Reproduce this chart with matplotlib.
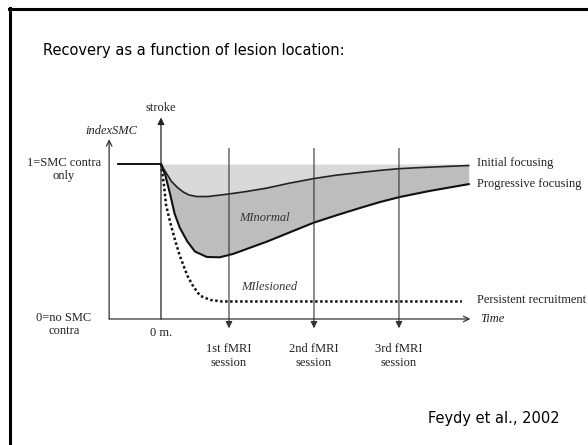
import numpy as np
import matplotlib.pyplot as plt
from matplotlib.lines import Line2D

# time axis: stroke at t=0, fMRI sessions afterwards (arbitrary units)
# index axis: 1 = SMC contra only, 0 = no SMC contra
initial_t = [0, 0.03, 0.07, 0.12, 0.19, 0.26, 0.33, 0.42, 0.55, 0.78, 1.0,
             1.25, 1.5, 1.79, 2.05, 2.34, 2.6, 2.81, 3.1, 3.35, 3.62]
initial_v = [1.0, 0.97, 0.935, 0.89, 0.85, 0.82, 0.80, 0.79, 0.79, 0.805, 0.822,
             0.845, 0.875, 0.905, 0.927, 0.945, 0.96, 0.97, 0.978, 0.984, 0.99]

progressive_t = [0, 0.05, 0.11, 0.16, 0.22, 0.31, 0.40, 0.54, 0.69, 0.85, 1.05,
                 1.25, 1.52, 1.79, 2.07, 2.34, 2.58, 2.81, 3.16, 3.62]
progressive_v = [1.0, 0.93, 0.80, 0.68, 0.59, 0.50, 0.435, 0.40, 0.398, 0.42, 0.46,
                 0.50, 0.56, 0.62, 0.67, 0.716, 0.755, 0.787, 0.826, 0.87]

lesioned_t = [0, 0.035, 0.06, 0.11, 0.165, 0.22, 0.31, 0.38, 0.46, 0.58, 0.72, 3.54]
lesioned_v = [1.0, 0.865, 0.735, 0.62, 0.51, 0.41, 0.28, 0.21, 0.15, 0.123, 0.113, 0.113]

pre_stroke_t = [-0.5, 0]
pre_stroke_v = [1.0, 1.0]

session_t = [0.8, 1.8, 2.8]
session_labels = ['1st fMRI\nsession', '2nd fMRI\nsession', '3rd fMRI\nsession']

curve_labels = ['Initial focusing', 'Progressive focusing', 'Persistent recruitment']
curve_label_v = [1.006, 0.87, 0.12]

fig = plt.figure(figsize=(5.88, 4.45), dpi=100)
ax = fig.add_axes([0, 0, 1, 1])
ax.set_xlim(-1.894, 5.024)
ax.set_ylim(-0.813, 2.058)
ax.axis('off')

serif = 'Liberation Serif'
fs = 9
tc = '#222222'

# shaded bands
ax.fill_between(initial_t, 1.0, initial_v, color='#d9d9d9', lw=0)
ax.fill_between(progressive_t, np.interp(progressive_t, initial_t, initial_v),
                progressive_v, color='#bdbdbd', lw=0)

# curves
ax.plot(pre_stroke_t, pre_stroke_v, color='black', lw=1.3)
ax.plot(initial_t, initial_v, color='#222222', lw=1.2)
ax.plot(progressive_t, progressive_v, color='#111111', lw=1.5)
ax.plot(lesioned_t, lesioned_v, color='#111111', lw=1.8, linestyle=(0, (1, 1)))

# axes arrows
x0, x_end = -0.61, 3.64
ax.annotate('', xy=(x0, 1.16), xytext=(x0, 0),
            arrowprops=dict(arrowstyle='->', color='#333333', lw=0.9,
                            shrinkA=0, shrinkB=0))
ax.annotate('', xy=(x_end, 0), xytext=(x0, 0),
            arrowprops=dict(arrowstyle='->', color='#333333', lw=0.9,
                            shrinkA=0, shrinkB=0))
ax.annotate('', xy=(0, 1.30), xytext=(0, 0),
            arrowprops=dict(arrowstyle='-|>', color='#222222', lw=0.9,
                            mutation_scale=10, shrinkA=0, shrinkB=0))

for t, lab in zip(session_t, session_labels):
    ax.annotate('', xy=(t, -0.06), xytext=(t, 1.1),
                arrowprops=dict(arrowstyle='-|>', color='#333333', lw=0.8,
                                mutation_scale=10, shrinkA=0, shrinkB=0))
    ax.text(t, -0.155, lab, ha='center', va='top', family=serif, fontsize=fs,
            linespacing=1.2, color=tc)

# texts on the diagram
ax.text(0, 1.36, 'stroke', ha='center', va='center', family=serif, fontsize=fs,
        color=tc)
ax.text(x0 + 0.02, 1.21, 'indexSMC', ha='center', va='center', family=serif,
        fontsize=fs, style='italic', color=tc)
ax.text(-1.14, 1.045, '1=SMC contra\nonly', ha='center', va='top', family=serif,
        fontsize=fs, linespacing=1.15, color=tc)
ax.text(-1.14, 0.045, '0=no SMC\ncontra', ha='center', va='top', family=serif,
        fontsize=fs, linespacing=1.15, color=tc)
ax.text(0, -0.09, '0 m.', ha='center', va='center', family=serif, fontsize=fs,
        color=tc)
ax.text(3.75, 0.0, 'Time', ha='left', va='center', family=serif, fontsize=fs,
        style='italic', color=tc)
ax.text(1.22, 0.65, 'MInormal', ha='center', va='center', family=serif,
        fontsize=fs, style='italic', color='#333333')
ax.text(1.27, 0.205, 'MIlesioned', ha='center', va='center', family=serif,
        fontsize=fs, style='italic', color='#333333')
for lab, v in zip(curve_labels, curve_label_v):
    ax.text(3.72, v, lab, ha='left', va='center', family=serif, fontsize=fs,
            color=tc)

# slide title, citation and frame
fig.text(43 / 588, 1 - 50 / 445, 'Recovery as a function of lesion location:',
         ha='left', va='center', family='DejaVu Sans', fontsize=10.5)
fig.text(428 / 588, 1 - 418 / 445, 'Feydy et al., 2002', ha='left', va='center',
         family='DejaVu Sans', fontsize=10.5)
fig.add_artist(Line2D([9.5 / 588, 9.5 / 588], [0, 1 - 8 / 445], color='black',
                      lw=2.2, transform=fig.transFigure))
fig.add_artist(Line2D([8.5 / 588, 1], [1 - 9 / 445, 1 - 9 / 445], color='black',
                      lw=2.2, transform=fig.transFigure))

fig.savefig('out.png', dpi=100)
